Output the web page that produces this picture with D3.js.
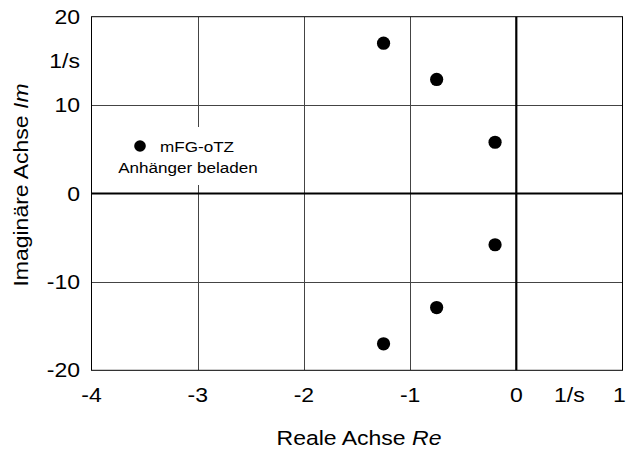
<!DOCTYPE html>
<html>
<head>
<meta charset="utf-8">
<script src="https://cdn.jsdelivr.net/npm/d3@7"></script>
<style>
  html, body { margin: 0; padding: 0; background: #fff; }
  svg { display: block; }
  text { font-family: "Liberation Sans", Arial, Helvetica, sans-serif; fill: #000; }
</style>
</head>
<body>
<svg id="chart" width="626" height="451"></svg>
<script>
// Pole locations (real part, imaginary part) in 1/s
const realParts = [-1.25, -0.75, -0.2, -0.2, -0.75, -1.25];
const imagParts = [17, 12.9, 5.8, -5.8, -12.9, -17];

// Axis ticks and labels
const xTicks = [-4, -3, -2, -1, 0, 1];
const xTickLabels = ["-4", "-3", "-2", "-1", "0", "1"];
const yTicks = [-20, -10, 0, 10, 20];
const yTickLabels = ["-20", "-10", "0", "10", "20"];
const unitLabel = "1/s";
const xUnitAt = 0.5;
const yUnitAt = 15;

const legendLines = ["mFG-oTZ", "Anhänger beladen"];

const svg = d3.select("#chart");
const plotLeft = 91.5, plotRight = 622.5, plotTop = 16.7, plotBottom = 370.3;
const STRETCH = 1.18;

const x = d3.scaleLinear().domain([-4, 1]).range([plotLeft, plotRight]);
const y = d3.scaleLinear().domain([-20, 20]).range([plotBottom, plotTop]);

// text helper with the wide letterforms used throughout the chart
function label(g, tx, ty, str, size, anchor, rotate) {
  const t = g.append("text")
    .attr("transform", `translate(${tx},${ty})` + (rotate ? ` rotate(${rotate})` : "") + ` scale(${STRETCH},1)`)
    .attr("font-size", size)
    .attr("text-anchor", anchor);
  return t.text(str);
}

// grid lines
const grid = svg.append("g").attr("stroke", "#444").attr("stroke-width", 1).attr("shape-rendering", "crispEdges");
grid.selectAll("line.v").data(xTicks.filter(d => d > -4 && d < 1 && d !== 0)).join("line")
  .attr("x1", d => Math.round(x(d)) + 0.5).attr("x2", d => Math.round(x(d)) + 0.5)
  .attr("y1", plotTop).attr("y2", plotBottom);
grid.selectAll("line.h").data(yTicks.filter(d => d > -20 && d < 20 && d !== 0)).join("line")
  .attr("x1", plotLeft).attr("x2", plotRight)
  .attr("y1", d => Math.round(y(d)) + 0.5).attr("y2", d => Math.round(y(d)) + 0.5);

// legend background box
svg.append("rect").attr("x", 112).attr("y", 127).attr("width", 154).attr("height", 58).attr("fill", "#fff");

// plot frame
svg.append("rect")
  .attr("x", plotLeft).attr("y", plotTop).attr("width", plotRight - plotLeft).attr("height", plotBottom - plotTop)
  .attr("fill", "none").attr("stroke", "#000").attr("stroke-width", 1);

// zero axes
svg.append("line").attr("x1", x(0)).attr("x2", x(0)).attr("y1", plotTop).attr("y2", plotBottom)
  .attr("stroke", "#000").attr("stroke-width", 2.2);
svg.append("line").attr("x1", plotLeft).attr("x2", plotRight).attr("y1", y(0)).attr("y2", y(0))
  .attr("stroke", "#000").attr("stroke-width", 2.2);

// poles
svg.append("g").selectAll("circle").data(realParts.map((r, i) => [r, imagParts[i]])).join("circle")
  .attr("cx", d => x(d[0])).attr("cy", d => y(d[1])).attr("r", 6.6).attr("fill", "#000");

// tick labels (the last one is pulled in so it stays on the page)
const labels = svg.append("g");
xTicks.forEach((v, i) => {
  const last = i === xTicks.length - 1;
  label(labels, last ? x(v) - 3 : x(v), 402, xTickLabels[i], 19.5, "middle");
});
label(labels, x(xUnitAt), 402, unitLabel, 19.5, "middle");
yTicks.forEach((v, i) => label(labels, 80, y(v) + 7, yTickLabels[i], 19.5, "end"));
label(labels, 80, y(yUnitAt) + 7, unitLabel, 19.5, "end");

// axis titles
const xt = label(labels, 359, 445, "", 19.5, "middle");
xt.append("tspan").text("Reale Achse ");
xt.append("tspan").attr("font-style", "italic").text("Re");
const yt = label(labels, 28, 185, "", 19.5, "middle", -90);
yt.append("tspan").text("Imaginäre Achse ");
yt.append("tspan").attr("font-style", "italic").text("Im");

// legend
svg.append("circle").attr("cx", 140).attr("cy", 146).attr("r", 5.8).attr("fill", "#000");
label(labels, 160, 151.5, legendLines[0], 14.5, "start");
label(labels, 188, 173, legendLines[1], 14.5, "middle");
</script>
</body>
</html>
